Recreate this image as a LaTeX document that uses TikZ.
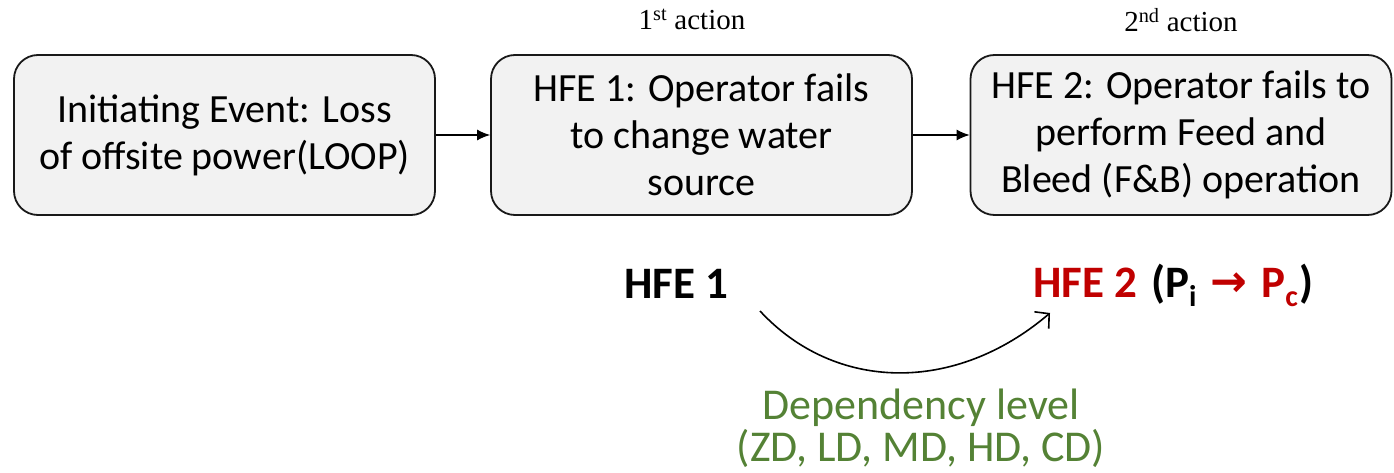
\documentclass[tikz,border=0pt]{standalone}
\usepackage{fontspec}
\setmainfont{Carlito}
\newfontfamily\timesf{Liberation Serif}
\newfontfamily\symf{DejaVu Sans}
\usetikzlibrary{arrows.meta}
\definecolor{boxfill}{HTML}{F2F2F2}
\definecolor{depgreen}{HTML}{548235}
\definecolor{hfered}{HTML}{C00000}
\tikzset{
  eventbox/.style={draw=black!90, line width=1.8pt, fill=boxfill, rounded corners=24pt,
    minimum width=421pt, minimum height=160pt, align=center, inner sep=4pt,
    font=\fontsize{40}{47}\selectfont},
  flow/.style={-{Latex[length=13pt,width=11pt]}, line width=1.3pt},
  actionlabel/.style={font=\timesf\fontsize{29}{32}\selectfont, anchor=base},
  hfelabel/.style={font=\bfseries\fontsize{45}{50}\selectfont, anchor=base west, inner sep=0pt},
  deplabel/.style={font=\fontsize{44}{42}\selectfont, text=depgreen, align=center, anchor=north},
  depcurve/.style={-{Straight Barb[length=10pt,width=22pt]}, line width=1.6pt}
}
\newcommand{\subsc}[2]{\raisebox{-9pt}{\textcolor{#1}{\fontsize{30}{30}\selectfont #2}}}
\begin{document}
\begin{tikzpicture}
  \useasboundingbox (0,0) rectangle (1394pt,472pt);
  \begin{scope}[x=1pt,y=1pt]
    % the three steps of the sequence
    \node[eventbox] (ie) at (224.5,337) {Initiating Event: Loss\\of offsite power(LOOP)};
    \node[eventbox] (hfeA) at (701.5,337) {HFE 1: Operator fails\\to change water\\source};
    \node[eventbox] (hfeB) at (1181,337) {HFE 2: Operator fails to\\perform Feed and\\Bleed (F\&B) operation};
    \draw[flow] (ie) -- (hfeA);
    \draw[flow] (hfeA) -- (hfeB);

    % action order above the boxes
    \node[actionlabel] (actA) at (692,442) {1\textsuperscript{st} action};
    \node[actionlabel] (actB) at (1181,440) {2\textsuperscript{nd} action};

    % dependency between the two human failure events
    \node[hfelabel] (first) at (624,174) {HFE 1};
    \node[hfelabel] (second) at (1033,175) {\textcolor{hfered}{HFE 2}\hspace{14pt}(P\subsc{black}{i}\hspace{14pt}%
      \textcolor{hfered}{\raisebox{1pt}{\symf\bfseries\fontsize{44}{46}\selectfont →}}\hspace{14pt}\textcolor{hfered}{P}\subsc{hfered}{c}\hspace{2pt})};
    \coordinate (from) at (760,161);
    \coordinate (to) at (1050,159);
    \draw[depcurve] (from) .. controls (835,80) and (955,78) .. (to);

    \node[deplabel] (dep) at (921,87) {Dependency level\\(ZD, LD, MD, HD, CD)};
  \end{scope}
\end{tikzpicture}
\end{document}
